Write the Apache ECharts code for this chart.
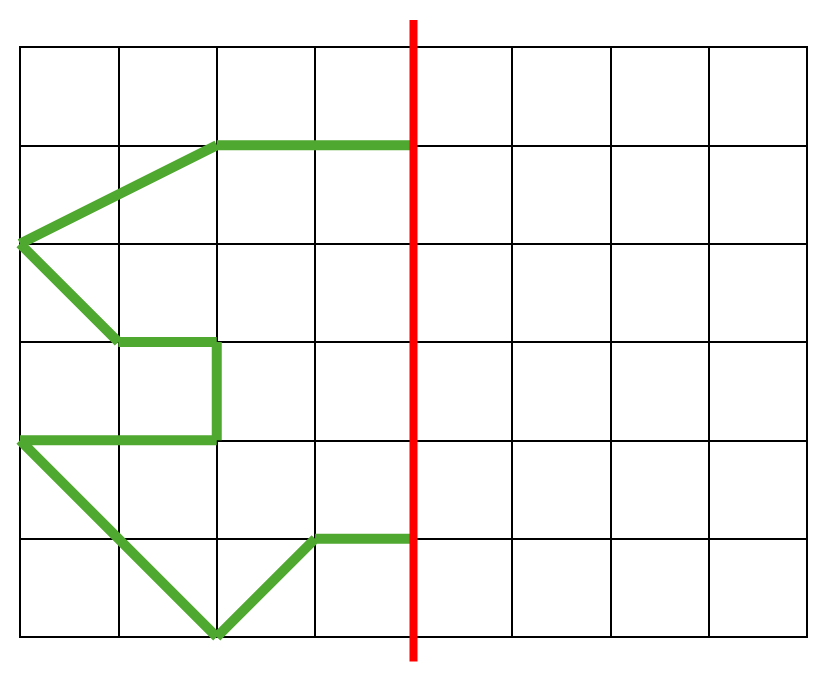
<!DOCTYPE html>
<html>
<head>
<meta charset="utf-8">
<script src="https://cdn.jsdelivr.net/npm/echarts@6/dist/echarts.min.js"></script>
<style>html,body{margin:0;padding:0;background:#fff}#c{width:835px;height:677px}</style>
</head>
<body>
<div id="c"></div>
<script>
// Grid size (cells)
const xCells = 8;
const yCells = 6;
// Green path vertices (x = column, y = row from top)
const greenPath = [[4,1],[2,1],[0,2],[1,3],[2,3],[2,4],[0,4],[2,6],[3,5],[4,5]];
// Red mirror line (x = 4), extending slightly beyond the grid
const redLine = [[4,-0.275],[4,6.25]];

// build separate segments (null separated) from the path
const segData = [];
for (let i = 0; i < greenPath.length - 1; i++) {
  segData.push(greenPath[i], greenPath[i+1], null);
}

const chart = echarts.init(document.getElementById('c'));
chart.setOption({
  animation: false,
  grid: {left: 20, right: 28, top: 47, bottom: 40, show: true, borderColor: '#000', borderWidth: 2},
  xAxis: {
    type: 'value', min: 0, max: xCells, interval: 1,
    axisLine: {show: false}, axisTick: {show: false}, axisLabel: {show: false},
    splitLine: {show: true, lineStyle: {color: '#000', width: 2}}
  },
  yAxis: {
    type: 'value', min: 0, max: yCells, interval: 1, inverse: true,
    axisLine: {show: false}, axisTick: {show: false}, axisLabel: {show: false},
    splitLine: {show: true, lineStyle: {color: '#000', width: 2}}
  },
  series: [
    {
      type: 'line', data: segData, symbol: 'none', connectNulls: false, clip: false,
      lineStyle: {color: '#4fa82f', width: 10, cap: 'butt', join: 'miter'}
    },
    {
      type: 'line', data: redLine, symbol: 'none', clip: false, z: 3,
      lineStyle: {color: '#ff0000', width: 8, cap: 'butt'}
    }
  ]
});
</script>
</body>
</html>
